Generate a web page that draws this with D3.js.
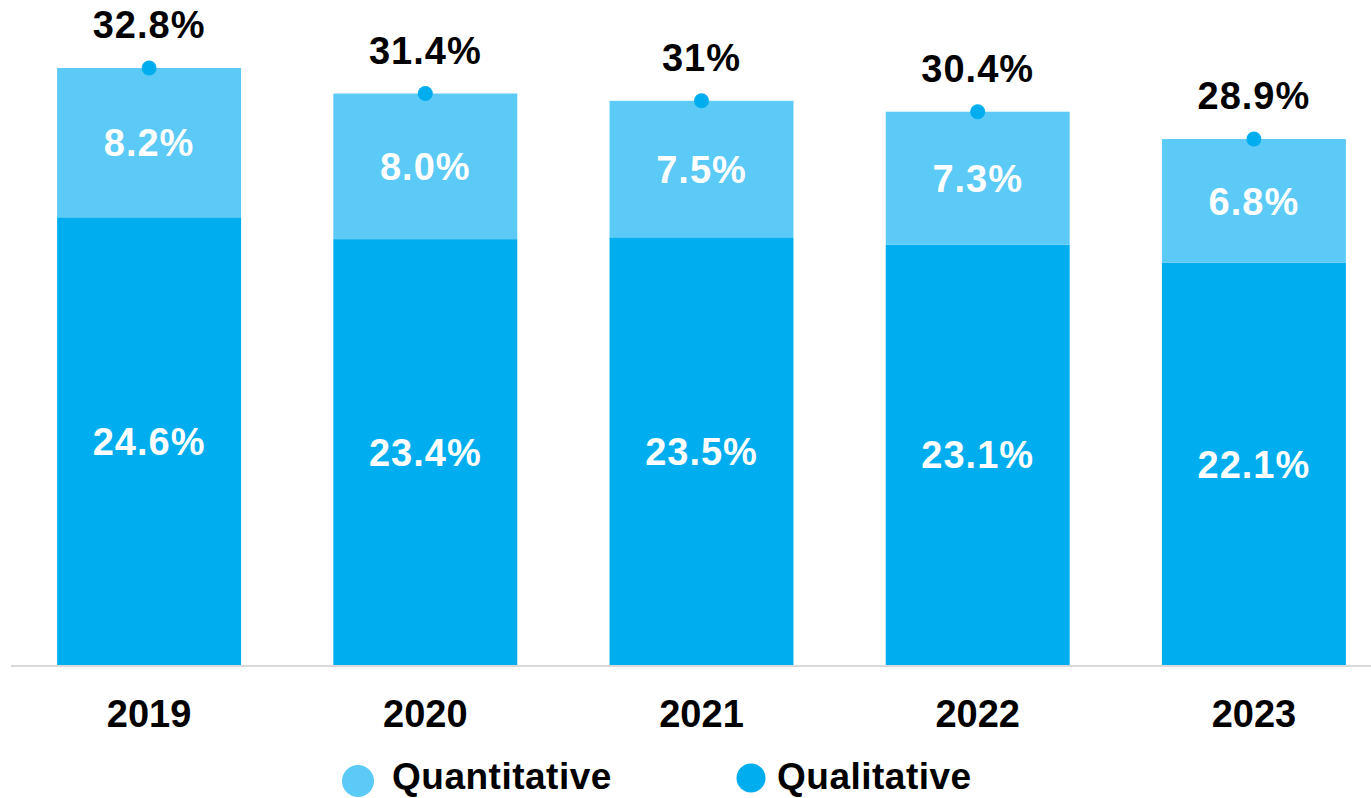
<!DOCTYPE html>
<html><head><meta charset="utf-8">
<script src="https://cdn.jsdelivr.net/npm/d3@7"></script>
<style>html,body{margin:0;padding:0;background:#fff;overflow:hidden}</style>
</head><body>
<svg id="chart" width="1371" height="798"></svg>
<script>
const years = ["2019","2020","2021","2022","2023"];
const qualitative = [24.6, 23.4, 23.5, 23.1, 22.1];
const quantitative = [8.2, 8.0, 7.5, 7.3, 6.8];
const totals = [32.8, 31.4, 31, 30.4, 28.9];
const totalLabels = ["32.8%","31.4%","31%","30.4%","28.9%"];
const seriesNames = ["Quantitative","Qualitative"];

const cLight = "#5BCAF6", cDark = "#00AEEF";
const font = "Liberation Sans, Arial, sans-serif";
const svg = d3.select("#chart");

const x = d3.scaleBand().domain(years).range([11, 1392]).paddingInner(0.334).paddingOuter(0.167);
const y = d3.scaleLinear().domain([0, 35]).range([665, 665 - 35*18.2]);

const data = years.map((yr,i)=>({yr, ql: qualitative[i], qn: quantitative[i], tot: totals[i], lab: totalLabels[i]}));

// bars
svg.selectAll("rect.ql").data(data).join("rect").attr("class","ql")
  .attr("x", d=>x(d.yr)).attr("width", x.bandwidth())
  .attr("y", d=>y(d.ql)).attr("height", d=>y(0)-y(d.ql)).attr("fill", cDark);
svg.selectAll("rect.qn").data(data).join("rect").attr("class","qn")
  .attr("x", d=>x(d.yr)).attr("width", x.bandwidth())
  .attr("y", d=>y(d.ql+d.qn)).attr("height", d=>y(d.ql)-y(d.ql+d.qn)).attr("fill", cLight);

// axis line
svg.append("line").attr("x1",11).attr("x2",1371).attr("y1",666).attr("y2",666)
  .attr("stroke","#D9D9D9").attr("stroke-width",2);

// axis labels
const xAxis = d3.axisBottom(x).tickSize(0).tickPadding(0);
const gx = svg.append("g").attr("transform","translate(0,666)").call(xAxis);
gx.select(".domain").remove();
gx.selectAll("text").attr("y", 61).attr("dy", null)
  .style("font-family", font).style("font-size","38px").style("font-weight","bold").attr("fill","#000");

// segment labels
const pctStyle = sel => sel.attr("text-anchor","middle")
  .style("font-family", font).style("font-size","38px").style("font-weight","bold").style("letter-spacing","1px");
svg.selectAll("text.qlv").data(data).join("text").attr("class","qlv")
  .attr("x", d=>x(d.yr)+x.bandwidth()/2).attr("y", d=>(y(0)+y(d.ql))/2).attr("dy","0.36em")
  .attr("fill","#fff").call(pctStyle)
  .text(d=>d.ql.toFixed(1)+"%");
svg.selectAll("text.qnv").data(data).join("text").attr("class","qnv")
  .attr("x", d=>x(d.yr)+x.bandwidth()/2).attr("y", d=>(y(d.ql)+y(d.ql+d.qn))/2).attr("dy","0.36em")
  .attr("fill","#fff").call(pctStyle)
  .text(d=>d.qn.toFixed(1)+"%");

// total dots and labels
svg.selectAll("circle.tot").data(data).join("circle").attr("class","tot")
  .attr("cx", d=>x(d.yr)+x.bandwidth()/2).attr("cy", d=>y(d.tot)).attr("r",7.5).attr("fill",cDark);
svg.selectAll("text.tot").data(data).join("text").attr("class","tot")
  .attr("x", d=>x(d.yr)+x.bandwidth()/2).attr("y", d=>y(d.tot)-30)
  .attr("fill","#000").call(pctStyle)
  .text(d=>d.lab);

// legend
const legend = [
  {name: seriesNames[0], color: cLight, cx: 358, cy: 781, r: 16, tx: 392},
  {name: seriesNames[1], color: cDark, cx: 751, cy: 778, r: 14.5, tx: 777}
];
const lg = svg.selectAll("g.lg").data(legend).join("g").attr("class","lg");
lg.append("circle").attr("cx",d=>d.cx).attr("cy",d=>d.cy).attr("r",d=>d.r).attr("fill",d=>d.color);
lg.append("text").attr("x",d=>d.tx).attr("y",789).attr("fill","#000")
  .style("font-family", font).style("font-size","37px").style("font-weight","bold").style("letter-spacing","0.5px")
  .text(d=>d.name);
</script>
</body></html>
